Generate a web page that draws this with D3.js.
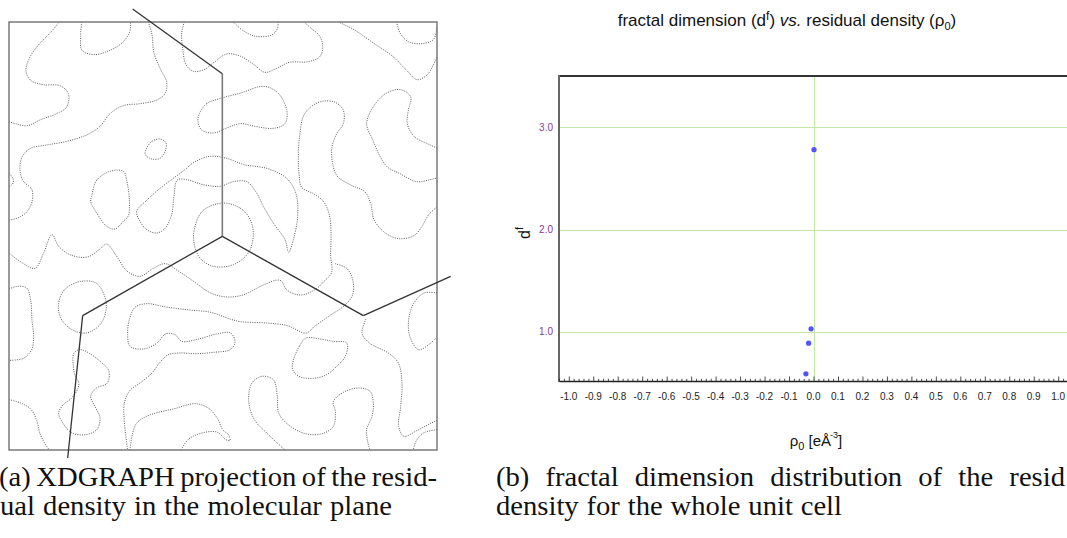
<!DOCTYPE html>
<html>
<head>
<meta charset="utf-8">
<script src="https://cdn.jsdelivr.net/npm/d3@7"></script>
<style>
  html, body { margin: 0; padding: 0; background: #fff; }
  svg { display: block; }
</style>
</head>
<body>
<svg id="fig" width="1067" height="538"></svg>
<script>
// ---------- (a) residual density map: contour lines in grid units ----------
const gridX = [27, 1311];
const gridY = [67, 1351];

const openContours = [
  [[178,67],[150,100],[112,140],[86,180],[78,215],[92,242],[130,255],[180,258],[205,282],[200,322],[170,342],[122,360],[82,378],[50,373],[27,366]],
  [[245,67],[242,110],[246,152],[282,165],[322,155],[362,133],[388,100],[392,67]],
  [[445,67],[456,105],[462,160],[482,210],[500,247],[495,282],[468,302],[420,312],[370,318],[330,342],[300,380],[262,405],[200,425],[140,436],[92,446],[66,472],[60,512],[70,545],[95,568],[97,602],[84,632],[60,652],[27,662]],
  [[27,520],[38,535],[40,548],[32,558],[27,560]],
  [[553,67],[545,100],[548,145],[558,195],[580,215],[612,210],[642,188],[680,163],[722,170],[762,195],[795,218],[832,205],[868,188],[925,186],[960,170],[968,138],[958,108],[932,85],[912,67]],
  [[700,67],[728,92],[768,110],[815,106],[832,88],[835,67]],
  [[1015,67],[1062,90],[1120,130],[1178,170],[1218,210],[1252,240],[1282,225],[1300,196],[1311,172]],
  [[1190,67],[1200,100],[1225,126],[1262,132],[1300,120],[1311,82]],
  [[1311,445],[1282,432],[1242,410],[1222,372],[1225,332],[1232,292],[1202,270],[1160,280],[1122,318],[1100,372],[1118,420],[1140,470],[1162,502],[1200,522],[1250,546],[1290,540],[1311,535]],
  [[27,760],[60,785],[105,806],[130,762],[156,705],[176,740],[212,766],[262,772],[300,748],[320,733],[350,770],[382,815],[420,830],[460,806],[496,792],[532,812],[582,846],[632,880],[682,892],[732,885],[790,856],[840,842],[862,872],[902,886],[945,870],[972,845],[995,818],[992,770],[993,700],[988,645],[970,605],[940,582],[905,563],[897,520],[895,460],[900,400],[910,350],[932,322],[966,305],[1006,308],[1030,332],[1030,372],[1010,402],[996,442],[998,492],[1012,530],[1052,556],[1095,577],[1113,615],[1122,660],[1156,700],[1198,717],[1242,708],[1266,680],[1286,645],[1311,622]],
  [[1005,792],[1040,806],[1058,840],[1058,885],[1035,916],[986,950],[946,978],[918,1000],[862,978],[800,970],[722,966],[690,958],[632,938],[560,930],[492,921],[442,912],[406,922],[388,960],[383,1005],[390,1040],[430,1048],[470,1031],[498,1002],[525,1005],[546,1025],[596,1018],[650,1003],[692,1000],[705,1028],[690,1050],[640,1058],[590,1062],[540,1060],[505,1065],[480,1088],[456,1120],[420,1150],[390,1172],[373,1210],[373,1265],[383,1351]],
  [[27,868],[52,860],[80,865],[92,902],[96,962],[101,1012],[95,1050],[70,1076],[27,1082]],
  [[27,1200],[62,1210],[92,1228],[110,1262],[120,1302],[135,1332],[148,1351]],
  [[390,1351],[398,1300],[412,1268],[452,1245],[520,1228],[586,1212],[626,1226],[652,1256],[668,1290],[686,1306],[690,1322],[678,1320],[650,1297],[606,1300],[566,1318],[543,1351]],
  [[855,1351],[800,1300],[762,1258],[746,1200],[756,1150],[786,1130],[820,1140],[832,1190],[836,1240],[866,1276],[916,1302],[966,1302],[1000,1280],[1006,1236],[1000,1206],[1030,1178],[1076,1165],[1110,1175],[1120,1210],[1116,1250],[1100,1290],[1104,1330],[1110,1351]],
  [[1098,958],[1086,1000],[1108,1030],[1165,1060],[1195,1090],[1206,1150],[1202,1220],[1196,1280],[1212,1310],[1252,1292],[1290,1272],[1311,1262]],
  [[1311,1290],[1270,1300],[1248,1325],[1240,1351]],
  [[1311,880],[1272,880],[1242,910],[1226,960],[1230,1012],[1256,1050],[1290,1032],[1311,1012]]
];

const closedContours = [
  [[440,445],[456,425],[480,418],[498,430],[495,456],[480,476],[455,478],[436,465]],
  [[275,590],[290,542],[330,515],[370,515],[380,542],[388,600],[385,648],[370,665],[345,688],[320,680],[290,640],[272,605]],
  [[598,342],[620,312],[662,296],[722,280],[790,260],[832,278],[860,330],[855,372],[820,386],[770,381],[720,372],[680,385],[640,400],[604,390],[594,365]],
  [[410,635],[440,602],[480,566],[520,536],[555,510],[582,488],[630,470],[680,476],[732,495],[800,506],[860,536],[888,582],[893,650],[880,720],[866,758],[855,720],[820,670],[790,620],[770,580],[740,546],[700,546],[660,560],[610,555],[560,540],[532,541],[522,590],[515,645],[495,686],[470,700],[440,690],[420,665]],
  [[668,610],[720,625],[748,655],[760,700],[746,758],[700,795],[640,800],[600,775],[582,730],[585,680],[610,632]],
  [[175,920],[192,872],[238,846],[288,850],[314,890],[318,932],[300,975],[260,1000],[220,992],[186,962]],
  [[222,1060],[242,1050],[276,1066],[306,1090],[326,1112],[322,1150],[288,1166],[272,1190],[286,1222],[300,1256],[290,1290],[256,1305],[216,1300],[186,1266],[176,1240],[190,1215],[214,1196],[234,1166],[236,1148],[226,1130],[220,1100]],
  [[880,1082],[898,1040],[918,1015],[960,1018],[1000,1025],[1040,1030],[1036,1070],[1010,1100],[980,1125],[940,1136],[896,1130],[878,1110]]
];

// molecular skeleton projected onto the plane (grid units)
const bonds = [
  [[398,28],[667,222]],
  [[667,222],[667,710]],
  [[667,710],[248,948]],
  [[667,710],[1090,948]],
  [[1090,948],[1352,830]],
  [[248,948],[203,1375]]
];

// ---------- (b) fractal dimension vs residual density ----------
const rho0 = [0.002, -0.010, -0.020, -0.031];
const fractalDim = [2.78, 1.03, 0.89, 0.59];
const xTickValues = [-1.0,-0.9,-0.8,-0.7,-0.6,-0.5,-0.4,-0.3,-0.2,-0.1,0.0,0.1,0.2,0.3,0.4,0.5,0.6,0.7,0.8,0.9,1.0];
const yTickValues = [1.0, 2.0, 3.0];

const captionA = ["(a) XDGRAPH projection of the resid-", "ual density in the molecular plane"];
const captionB = ["(b) fractal dimension distribution of the resid", "density for the whole unit cell"];

const svg = d3.select("#fig");
svg.append("rect").attr("width", 1067).attr("height", 538).attr("fill", "#fff");

// ===== panel (a) =====
const gx = d3.scaleLinear().domain(gridX).range([9, 437]);
const gy = d3.scaleLinear().domain(gridY).range([22, 450]);

const pa = svg.append("g");
pa.append("clipPath").attr("id", "mapclip")
  .append("rect").attr("x", 9).attr("y", 22).attr("width", 428).attr("height", 428);

const openLine = d3.line().x(d => gx(d[0])).y(d => gy(d[1])).curve(d3.curveCatmullRom.alpha(0.5));
const closedLine = d3.line().x(d => gx(d[0])).y(d => gy(d[1])).curve(d3.curveCatmullRomClosed.alpha(0.5));

const cg = pa.append("g").attr("clip-path", "url(#mapclip)")
  .attr("fill", "none").attr("stroke", "#4a4a4a").attr("stroke-width", 0.9)
  .attr("stroke-dasharray", "1 1.3");
cg.selectAll("path.open").data(openContours).join("path").attr("class", "open").attr("d", openLine);
cg.selectAll("path.closed").data(closedContours).join("path").attr("class", "closed").attr("d", closedLine);

pa.append("rect").attr("x", 9).attr("y", 22).attr("width", 428).attr("height", 428)
  .attr("fill", "none").attr("stroke", "#707070").attr("stroke-width", 1.4);

pa.selectAll("line.bond").data(bonds).join("line").attr("class", "bond")
  .attr("x1", d => gx(d[0][0])).attr("y1", d => gy(d[0][1]))
  .attr("x2", d => gx(d[1][0])).attr("y2", d => gy(d[1][1]))
  .attr("stroke", (d, i) => i === 1 ? "#7a7a7a" : "#333")
  .attr("stroke-width", (d, i) => i === 1 ? 1.6 : 1.3);

// ===== panel (b) =====
const x = d3.scaleLinear().domain([-1.04, 1.04]).range([559, 1068]);
const y = d3.scaleLinear().domain([0.52, 3.5]).range([381, 76]);

const pb = svg.append("g");
const gridColor = "#c4e5a8";
pb.selectAll("line.hgrid").data(yTickValues).join("line").attr("class", "hgrid")
  .attr("x1", x.range()[0]).attr("x2", x.range()[1])
  .attr("y1", d => Math.round(y(d)) + 0.5).attr("y2", d => Math.round(y(d)) + 0.5)
  .attr("stroke", gridColor).attr("stroke-width", 1);
pb.append("line")
  .attr("x1", Math.round(x(0)) + 0.5).attr("x2", Math.round(x(0)) + 0.5)
  .attr("y1", y.range()[1]).attr("y2", y.range()[0])
  .attr("stroke", gridColor).attr("stroke-width", 1);

// frame: top border, left axis
pb.append("line").attr("x1", 558).attr("x2", 1068).attr("y1", y.range()[1]).attr("y2", y.range()[1])
  .attr("stroke", "#333").attr("stroke-width", 2);
pb.append("line").attr("x1", 559).attr("x2", 559).attr("y1", 75).attr("y2", 382)
  .attr("stroke", "#666").attr("stroke-width", 2);

// bottom axis with inward ticks
const minorTicks = d3.range(-52, 53).map(k => k * 0.02);
const xAxis = d3.axisBottom(x).tickValues(minorTicks).tickFormat("").tickSizeInner(-2).tickSizeOuter(0);
const axG = pb.append("g").attr("transform", `translate(0,${y.range()[0]})`).call(xAxis);
axG.select(".domain").attr("stroke", "#222").attr("stroke-width", 1.4);
axG.selectAll(".tick line").attr("stroke", "#222").attr("stroke-width", 0.8)
  .attr("y2", d => (Math.round(d / 0.02) % 5 === 0 ? -4.5 : -2.2));

const sans = "Liberation Sans, Arial, sans-serif";
pb.selectAll("text.xtick").data(xTickValues).join("text").attr("class", "xtick")
  .attr("x", d => x(d)).attr("y", 400)
  .attr("text-anchor", "middle")
  .attr("font-family", sans).attr("font-size", 10)
  .attr("fill", "#222")
  .text(d => d3.format(".1f")(d).replace("−", "-"));

pb.selectAll("text.ytick").data(yTickValues).join("text").attr("class", "ytick")
  .attr("x", 553).attr("y", d => y(d) + 3.5)
  .attr("text-anchor", "end")
  .attr("font-family", sans).attr("font-size", 10)
  .attr("fill", "#8a3a92")
  .text(d => d3.format(".1f")(d));

pb.selectAll("circle.pt").data(rho0.map((r, i) => [r, fractalDim[i]])).join("circle").attr("class", "pt")
  .attr("cx", d => x(d[0])).attr("cy", d => y(d[1])).attr("r", 2.6)
  .attr("fill", "#5252ff");

// title
const title = pb.append("text").attr("x", 787).attr("y", 26).attr("text-anchor", "middle")
  .attr("font-family", sans).attr("font-size", 17).attr("fill", "#111");
title.append("tspan").text("fractal dimension (d");
title.append("tspan").attr("dy", -6).attr("font-size", 12).text("f");
title.append("tspan").attr("dy", 6).text(") ");
title.append("tspan").attr("font-style", "italic").text("vs.");
title.append("tspan").text(" residual density (");
title.append("tspan").text("ρ");
title.append("tspan").attr("dy", 4).attr("font-size", 11).text("0");
title.append("tspan").attr("dy", -4).text(")");

// x axis label
const xl = pb.append("text").attr("x", 816).attr("y", 446).attr("text-anchor", "middle")
  .attr("font-family", sans).attr("font-size", 15).attr("fill", "#111");
xl.append("tspan").text("ρ");
xl.append("tspan").attr("dy", 4).attr("font-size", 11).text("0");
xl.append("tspan").attr("dy", -4).text(" [eÅ");
xl.append("tspan").attr("dy", -8).attr("dx", -1).attr("font-size", 9).text("-3");
xl.append("tspan").attr("dy", 8).text("]");

// y axis label
const yl = pb.append("text").attr("transform", "translate(530,233) rotate(-90)")
  .attr("text-anchor", "middle")
  .attr("font-family", sans).attr("font-size", 16).attr("fill", "#111");
yl.append("tspan").text("d");
yl.append("tspan").attr("dy", -7).attr("font-size", 11).text("f");

// ===== captions: justified serif lines, slightly widened glyphs =====
const serif = "Liberation Serif, Times New Roman, serif";
const capSize = 26.5;
const capStretch = 1.08;
function captionLine(str, x0, yBase, target) {
  const g = svg.append("g").attr("transform", `translate(${x0},${yBase}) scale(${capStretch},1)`);
  const t = g.append("text").attr("x", 0).attr("y", 0)
    .attr("font-family", serif).attr("font-size", capSize).attr("fill", "#111")
    .text(str);
  const w = t.node().getComputedTextLength();
  const gaps = (str.match(/ /g) || []).length;
  if (gaps > 0) t.attr("word-spacing", (target / capStretch - w) / gaps);
  return t;
}
captionLine(captionA[0], -1, 486, 438);
captionLine(captionA[1], 0, 515, 392);
captionLine(captionB[0], 496, 486, 569);
captionLine(captionB[1], 496, 515, 346);
</script>
</body>
</html>
